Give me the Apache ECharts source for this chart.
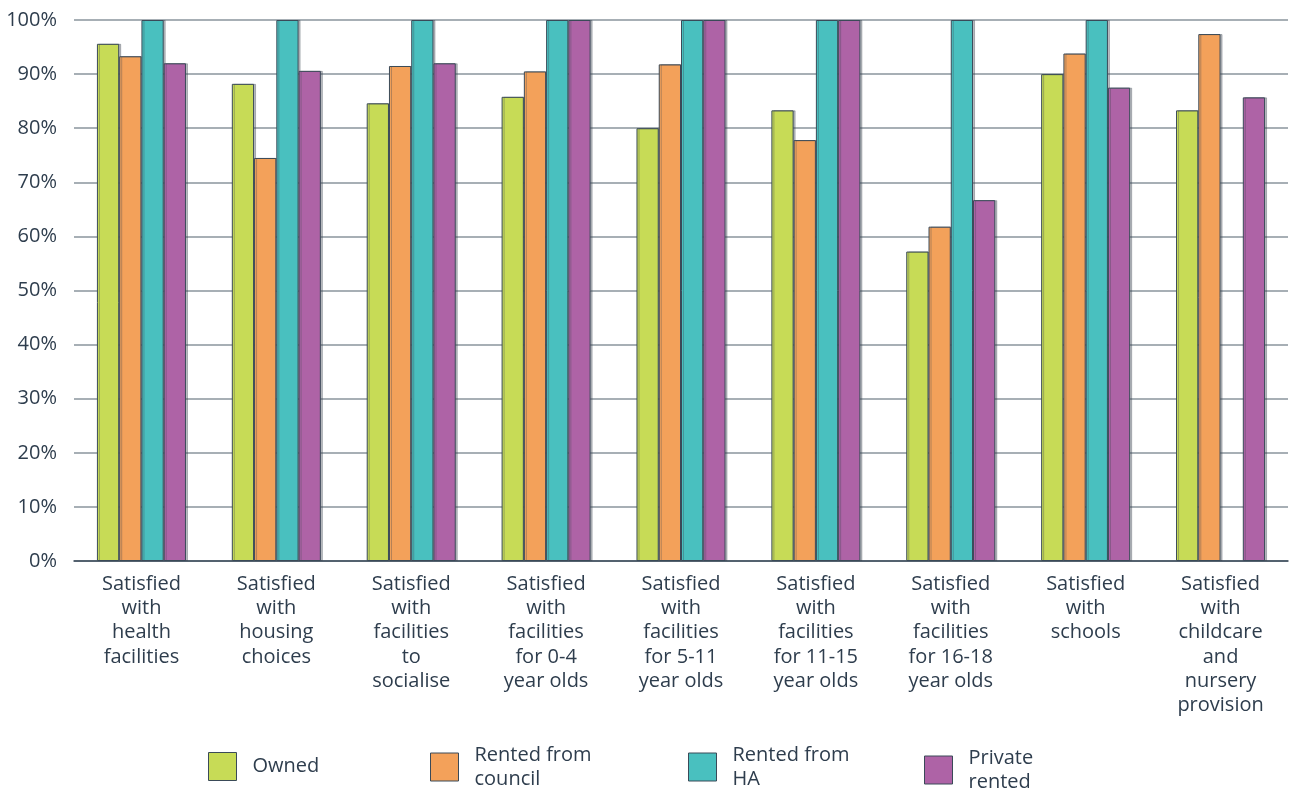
<!DOCTYPE html>
<html><head><meta charset="utf-8">
<script src="https://cdn.jsdelivr.net/npm/echarts@6/dist/echarts.min.js"></script>
<style>html,body{margin:0;padding:0;background:#fff}#c{width:1290px;height:794px}</style>
</head><body><div id="c"></div>
<script>
const categories = [
  "Satisfied\nwith\nhealth\nfacilities",
  "Satisfied\nwith\nhousing\nchoices",
  "Satisfied\nwith\nfacilities\nto\nsocialise",
  "Satisfied\nwith\nfacilities\nfor 0-4\nyear olds",
  "Satisfied\nwith\nfacilities\nfor 5-11\nyear olds",
  "Satisfied\nwith\nfacilities\nfor 11-15\nyear olds",
  "Satisfied\nwith\nfacilities\nfor 16-18\nyear olds",
  "Satisfied\nwith\nschools",
  "Satisfied\nwith\nchildcare\nand\nnursery\nprovision"
];
const owned   = [95.6, 88.2, 84.6, 85.8, 80.0, 83.3, 57.2, 90.0, 83.3];
const council = [93.3, 74.5, 91.5, 90.5, 91.8, 77.8, 61.8, 93.8, 97.4];
const ha      = [100, 100, 100, 100, 100, 100, 100, 100, null];
const privateRented = [92.0, 90.6, 92.0, 100, 100, 100, 66.7, 87.5, 85.7];
const seriesNames = ["Owned", "Rented from\ncouncil", "Rented from\nHA", "Private\nrented"];
const colors = ["#c7db56", "#f3a15a", "#49c0bf", "#ae63a6"];
const yTicks = [0,10,20,30,40,50,60,70,80,90,100];

const FONT = "Open Sans";
const TXT = "#2e3d4d";
const chart = echarts.init(document.getElementById('c'));
const dataSets = [owned, council, ha, privateRented];
const legendLefts = [208, 430, 688, 924];
const legendTops = [752, 743, 743, 746];
chart.setOption({
  animation: false,
  textStyle: {fontFamily: FONT, color: TXT},
  grid: {left: 74, right: 2, top: 20, bottom: 233, containLabel: false},
  legend: seriesNames.map((n, i) => ({
    data: [{name: n, icon: 'rect'}], left: legendLefts[i], top: legendTops[i], padding: 0,
    itemWidth: 28, itemHeight: 28, itemGap: 0,
    textStyle: {fontFamily: FONT, fontSize: 20, color: TXT, lineHeight: 24, padding: [0,0,0,11]},
    itemStyle: {borderColor: '#3a4a58', borderWidth: 1}
  })),
  xAxis: {
    type: 'category', data: categories,
    axisLine: {lineStyle: {color: '#3a4a58', width: 1.5}},
    axisTick: {show: false},
    axisLabel: {interval: 0, fontFamily: FONT, fontSize: 20, color: TXT, lineHeight: 24.3, margin: 11}
  },
  yAxis: {
    type: 'value', min: 0, max: 100, interval: 10,
    axisLine: {show: false}, axisTick: {show: false},
    splitLine: {lineStyle: {color: '#8a949c', width: 1.5}},
    axisLabel: {formatter: v => yTicks.includes(v) ? v + '%' : '', fontFamily: FONT, fontSize: 20, color: TXT, margin: 17}
  },
  series: seriesNames.map((n, i) => ({
    name: n, type: 'bar', data: dataSets[i], barGap: '0%', barCategoryGap: '34%',
    itemStyle: {color: colors[i], borderColor: '#3a4a58', borderWidth: 1,
      shadowColor: 'rgba(60,70,80,0.35)', shadowOffsetX: 2, shadowBlur: 0}
  }))
});
</script></body></html>
